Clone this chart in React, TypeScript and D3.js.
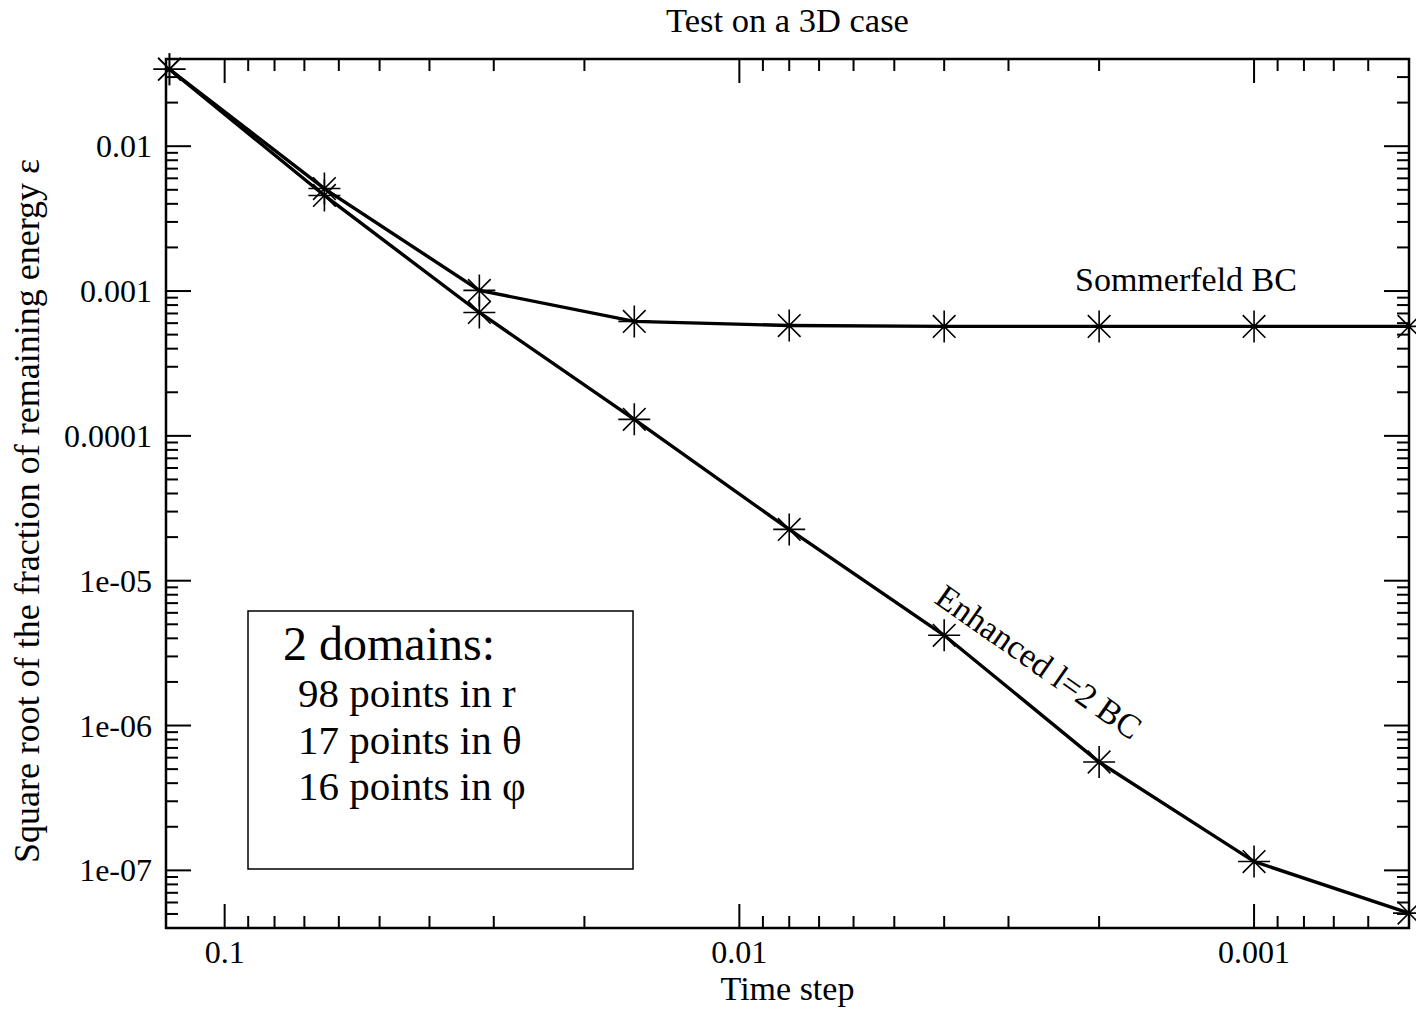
import { useEffect, useRef } from "react";
import * as d3 from "d3";

// time steps (x) and the two error curves (y)
const timeSteps = [0.128, 0.064, 0.032, 0.016, 0.008, 0.004, 0.002, 0.001, 0.0005];
const sommerfeld = [0.034, 0.0051, 0.00101, 0.000617, 0.000578, 0.00057, 0.00057, 0.00057, 0.00057];
const enhanced = [0.034, 0.00457, 0.000711, 0.00013, 2.26e-5, 4.2e-6, 5.6e-7, 1.15e-7, 5.07e-8];

const xTickValues = [0.1, 0.01, 0.001];
const xTickLabels = ["0.1", "0.01", "0.001"];
const yTickValues = [0.01, 0.001, 0.0001, 1e-5, 1e-6, 1e-7];
const yTickLabels = ["0.01", "0.001", "0.0001", "1e-05", "1e-06", "1e-07"];

const boxTitle = "2 domains:";
const boxLines = ["98 points in r", "17 points in θ", "16 points in φ"];

const FONT = "'Liberation Serif', 'Times New Roman', serif";

const App = () => {
  const svgRef = useRef(null);

  useEffect(() => {
    const svg = d3.select(svgRef.current);
    svg.selectAll("*").remove();

    const left = 166, right = 1409, top = 59, bottom = 928;
    const x = d3.scaleLog().domain([0.13, 0.0005]).range([left, right]);
    const y = d3.scaleLog().domain([4e-8, 0.04]).range([bottom, top]);

    // title and axis labels
    svg.append("text")
      .attr("x", (left + right) / 2).attr("y", 32)
      .attr("text-anchor", "middle").attr("font-size", 34.5)
      .text("Test on a 3D case");
    svg.append("text")
      .attr("x", (left + right) / 2).attr("y", 1000)
      .attr("text-anchor", "middle").attr("font-size", 34)
      .text("Time step");
    svg.append("text")
      .attr("transform", "translate(39,511) rotate(-90)")
      .attr("text-anchor", "middle").attr("font-size", 36)
      .text("Square root of the fraction of remaining energy ε");

    // ticks on all four sides, pointing inwards
    const isMajor = (v) => Math.abs(Math.log10(v) - Math.round(Math.log10(v))) < 1e-6;
    const ticks = svg.append("g").attr("stroke", "#000").attr("stroke-width", 2);
    x.ticks().forEach((v) => {
      const len = isMajor(v) ? 24 : 12;
      const px = x(v);
      ticks.append("line").attr("x1", px).attr("x2", px).attr("y1", bottom).attr("y2", bottom - len);
      ticks.append("line").attr("x1", px).attr("x2", px).attr("y1", top).attr("y2", top + len);
    });
    y.ticks().forEach((v) => {
      const len = isMajor(v) ? 25 : 12;
      const py = y(v);
      ticks.append("line").attr("y1", py).attr("y2", py).attr("x1", left).attr("x2", left + len);
      ticks.append("line").attr("y1", py).attr("y2", py).attr("x1", right).attr("x2", right - len);
    });

    // tick labels
    svg.append("g").selectAll("text")
      .data(xTickValues)
      .join("text")
      .attr("x", (d) => x(d)).attr("y", 963)
      .attr("text-anchor", "middle").attr("font-size", 32)
      .text((d, i) => xTickLabels[i]);
    svg.append("g").selectAll("text")
      .data(yTickValues)
      .join("text")
      .attr("x", 152).attr("y", (d) => y(d) + 11)
      .attr("text-anchor", "end").attr("font-size", 32)
      .text((d, i) => yTickLabels[i]);

    // frame
    svg.append("rect")
      .attr("x", left).attr("y", top)
      .attr("width", right - left).attr("height", bottom - top)
      .attr("fill", "none").attr("stroke", "#000").attr("stroke-width", 2.5);

    // series
    const line = d3.line()
      .x((d) => x(d[0]))
      .y((d) => y(d[1]));
    const star = (r) => {
      const q = r / Math.SQRT2;
      return `M${-r},0L${r},0M0,${-r}L0,${r}M${-q},${-q}L${q},${q}M${-q},${q}L${q},${-q}`;
    };
    [sommerfeld, enhanced].forEach((series) => {
      const pts = timeSteps.map((t, i) => [t, series[i]]);
      svg.append("path")
        .attr("d", line(pts))
        .attr("fill", "none").attr("stroke", "#000").attr("stroke-width", 3.4);
      svg.append("g").selectAll("path")
        .data(pts)
        .join("path")
        .attr("transform", (d) => `translate(${x(d[0])},${y(d[1])})`)
        .attr("d", star(16))
        .attr("stroke", "#000").attr("stroke-width", 1.6).attr("fill", "none");
    });

    // curve annotations
    svg.append("text")
      .attr("x", 1075).attr("y", 291).attr("font-size", 34)
      .text("Sommerfeld BC");
    svg.append("text")
      .attr("transform", "translate(933,602) rotate(35)")
      .attr("font-size", 34)
      .text("Enhanced l=2 BC");

    // grid description box
    svg.append("rect")
      .attr("x", 248).attr("y", 611).attr("width", 385).attr("height", 258)
      .attr("fill", "#fff").attr("stroke", "#000").attr("stroke-width", 1.5);
    svg.append("text")
      .attr("x", 283).attr("y", 660).attr("font-size", 48)
      .text(boxTitle);
    svg.append("g").selectAll("text")
      .data(boxLines)
      .join("text")
      .attr("x", 298).attr("y", (d, i) => 707 + i * 46.5)
      .attr("font-size", 41)
      .text((d) => d);
  }, []);

  return (
    <svg
      ref={svgRef}
      width="1416"
      height="1012"
      style={{ position: "absolute", left: 0, top: 0, background: "#fff", fontFamily: FONT }}
    ></svg>
  );
};

export default App;
